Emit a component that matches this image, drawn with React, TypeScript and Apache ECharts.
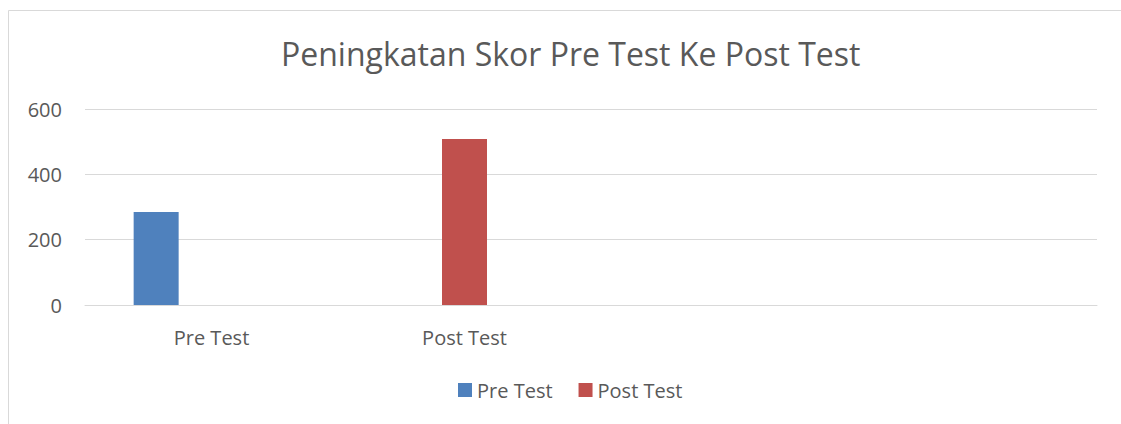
import React, { useEffect, useRef } from "react";
import * as echarts from "echarts";

const categories = ["Pre Test", "Post Test", "", ""];
const preTest = [285, null, null, null];
const postTest = [null, 508, null, null];
const spacer = [null, null, null, null];
const yTicks = { min: 0, max: 600, interval: 200 };
const title = "Peningkatan Skor Pre Test Ke Post Test";

const FONT = "'Open Sans', sans-serif";
const TEXT = "#595959";

export default function App() {
  const ref = useRef<HTMLDivElement>(null);
  useEffect(() => {
    document.body.style.margin = "0";
    const chart = echarts.init(ref.current!, null, { renderer: "svg" });
    chart.setOption({
      animation: false,
      backgroundColor: "#ffffff",
      textStyle: { fontFamily: FONT },
      title: {
        text: title,
        left: 276,
        top: 32,
        textStyle: { fontFamily: FONT, fontSize: 32, fontWeight: "normal", color: TEXT },
      },
      graphic: [
        {
          type: "rect",
          shape: { x: 8.5, y: 10.5, width: 1200, height: 500 },
          style: { fill: "none", stroke: "#D9D9D9", lineWidth: 1 },
          silent: true,
          z: -1,
        },
      ],
      legend: {
        data: ["Pre Test", "Post Test"],
        bottom: 19,
        left: 453,
        icon: "rect",
        itemWidth: 14,
        itemHeight: 14,
        itemGap: 26,
        textStyle: { fontFamily: FONT, fontSize: 20, color: TEXT },
      },
      grid: { left: 85, right: 24, top: 109, bottom: 119, containLabel: false },
      xAxis: {
        type: "category",
        data: categories,
        axisLine: { show: true, lineStyle: { color: "#D9D9D9", width: 1 } },
        axisTick: { show: false },
        axisLabel: { color: TEXT, fontSize: 20, fontFamily: FONT, margin: 22, interval: 0 },
      },
      yAxis: {
        type: "value",
        ...yTicks,
        axisLine: { show: false },
        axisTick: { show: false },
        splitLine: { lineStyle: { color: "#D9D9D9", width: 1 } },
        axisLabel: { color: TEXT, fontSize: 20, fontFamily: FONT, margin: 23 },
      },
      series: [
        { name: "Pre Test", type: "bar", data: preTest, barWidth: 45, barGap: "23%", itemStyle: { color: "#4F81BD" } },
        { name: "Post Test", type: "bar", data: postTest, barWidth: 45, barGap: "23%", itemStyle: { color: "#C0504D" } },
        { name: "spacer", type: "bar", data: spacer, barWidth: 45, barGap: "23%", itemStyle: { color: "#9BBB59" } },
      ],
    });
    return () => chart.dispose();
  }, []);
  return <div ref={ref} style={{ width: 1121, height: 424 }} />;
}
